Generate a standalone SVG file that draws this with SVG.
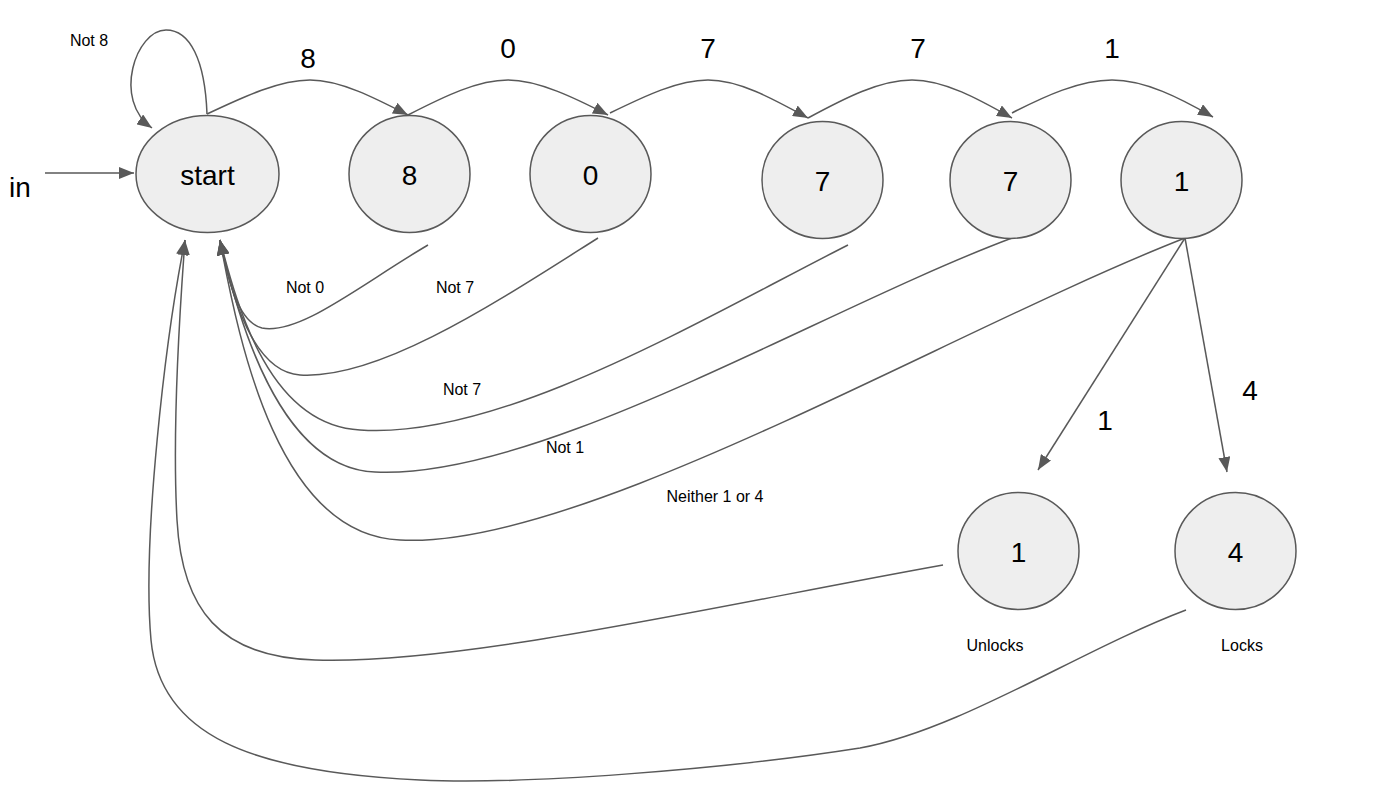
<svg xmlns="http://www.w3.org/2000/svg" width="1399" height="792" viewBox="0 0 1399 792">
<defs>
<marker id="ah" markerUnits="userSpaceOnUse" markerWidth="16" markerHeight="12" refX="15" refY="6" orient="auto">
<path d="M0,0 L15,6 L0,12 Z" fill="#595959"/>
</marker>
<style>
.node{fill:#eeeeee;stroke:#595959;stroke-width:1.5}
.edge{fill:none;stroke:#595959;stroke-width:1.5}
.arr{marker-end:url(#ah)}
.lbl{font-family:"Liberation Sans",Arial,sans-serif;fill:#000;text-anchor:middle}
.big{font-size:28px}
.small{font-size:16px}
</style>
</defs>
<rect width="1399" height="792" fill="#ffffff"/>
<g id="connectors">
<path class="edge arr" d="M45,173 L134,173"/>
<path class="edge arr" d="M207,114 C205,60 190,30 166,30 C136,30 112,100 152,128"/>
<path class="edge arr" d="M207,114 C245,96 280,80 310,80 C340,80 375,98 408,115"/>
<path class="edge arr" d="M408,115 C445,96 478,80 508,80 C538,80 575,98 608,115"/>
<path class="edge arr" d="M610,113 C645,96 678,80 708,80 C740,80 775,100 808,118"/>
<path class="edge arr" d="M808,118 C845,98 880,80 912,80 C945,80 980,100 1012,118"/>
<path class="edge arr" d="M1012,113 C1045,96 1080,80 1112,80 C1145,80 1180,98 1213,117"/>
<path class="edge arr" d="M428,245 C360,285 300,335 262,328 C238,322 228,280 220,240"/>
<path class="edge arr" d="M598,238 C500,300 380,380 300,375 C255,372 232,300 220,240"/>
<path class="edge arr" d="M848,245 C700,320 500,440 360,430 C270,425 238,310 220,240"/>
<path class="edge arr" d="M1012,238 C820,310 540,480 375,472 C280,468 238,320 220,240"/>
<path class="edge arr" d="M1185,238 C950,330 580,550 400,540 C280,535 240,350 220,240"/>
<path class="edge arr" d="M1185,238 L1038,470"/>
<path class="edge arr" d="M1185,238 L1227,472"/>
<path class="edge arr" d="M943,565 C720,605 460,665 315,660 C220,657 182,610 177,520 C172,430 179,320 185,240"/>
<path class="edge arr" d="M1186,610 C1080,650 960,730 860,748 C720,770 520,785 420,780 C250,772 160,735 151,640 C142,540 165,340 185,240"/>
</g>
<g id="node-start"><ellipse class="node" cx="207.5" cy="174" rx="71.5" ry="58.5"/><text class="lbl big" x="207.5" y="185">start</text></g>
<g id="node-8"><ellipse class="node" cx="409.5" cy="174" rx="60.5" ry="58.5"/><text class="lbl big" x="409.5" y="185">8</text></g>
<g id="node-0"><ellipse class="node" cx="590.5" cy="174" rx="60.5" ry="58.5"/><text class="lbl big" x="590.5" y="185">0</text></g>
<g id="node-7a"><ellipse class="node" cx="822.5" cy="180" rx="60.5" ry="58.5"/><text class="lbl big" x="822.5" y="191">7</text></g>
<g id="node-7b"><ellipse class="node" cx="1010.5" cy="180" rx="60.5" ry="58.5"/><text class="lbl big" x="1010.5" y="191">7</text></g>
<g id="node-1"><ellipse class="node" cx="1181.5" cy="180" rx="60.5" ry="58.5"/><text class="lbl big" x="1181.5" y="191">1</text></g>
<g id="node-unlock"><ellipse class="node" cx="1018.5" cy="551" rx="60.5" ry="58.5"/><text class="lbl big" x="1018.5" y="562">1</text></g>
<g id="node-lock"><ellipse class="node" cx="1235.5" cy="551" rx="60.5" ry="58.5"/><text class="lbl big" x="1235.5" y="562">4</text></g>
<g id="labels">
<text class="lbl big" x="20" y="197">in</text>
<text class="lbl small" x="89" y="46">Not 8</text>
<text class="lbl big" x="308" y="68">8</text>
<text class="lbl big" x="508" y="58">0</text>
<text class="lbl big" x="708" y="58">7</text>
<text class="lbl big" x="918" y="58">7</text>
<text class="lbl big" x="1112" y="58">1</text>
<text class="lbl small" x="305" y="293">Not 0</text>
<text class="lbl small" x="455" y="293">Not 7</text>
<text class="lbl small" x="462" y="395">Not 7</text>
<text class="lbl small" x="565" y="453">Not 1</text>
<text class="lbl small" x="715" y="502">Neither 1 or 4</text>
<text class="lbl big" x="1105" y="430">1</text>
<text class="lbl big" x="1250" y="400">4</text>
<text class="lbl small" x="995" y="651">Unlocks</text>
<text class="lbl small" x="1242" y="651">Locks</text>
</g>
</svg>
